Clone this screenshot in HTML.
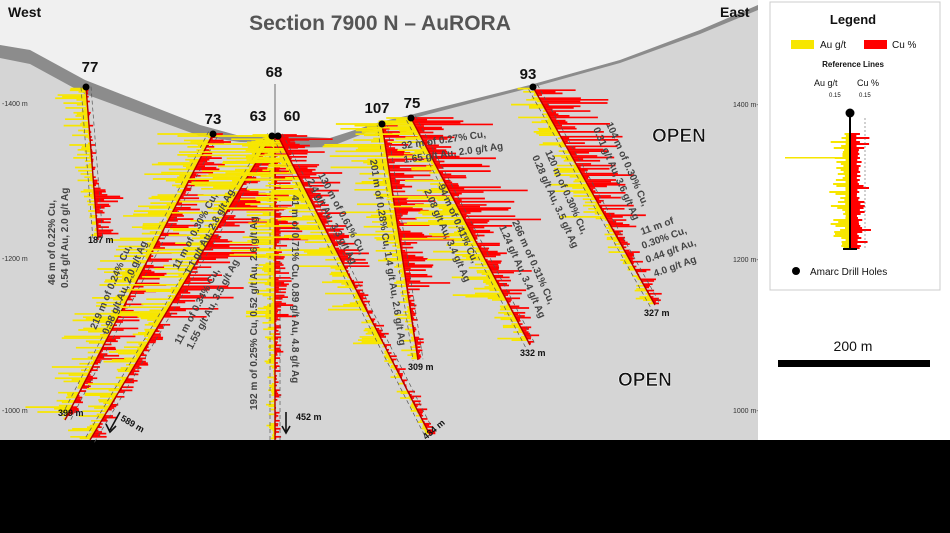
<!DOCTYPE html>
<html><head><meta charset="utf-8"><style>
html,body{margin:0;padding:0;background:#000;width:950px;height:533px;overflow:hidden}
svg{display:block}
text{font-family:"Liberation Sans",sans-serif}
</style></head><body>
<svg id="s" width="950" height="533" viewBox="0 0 950 533" xmlns="http://www.w3.org/2000/svg">
<rect x="0" y="0" width="950" height="533" fill="#000"/>
<rect x="0" y="0" width="758" height="440" fill="#d5d5d5"/>
<polygon points="0,0 758,0 758,5 700,30 620,60 530,85 410,115 380,122 330,138 275,135 240,136 200,125 85,80 30,50 0,45" fill="#f0f0f0"/>
<polygon points="0,45 30,50 85,80 200,125 240,136 275,135 330,138 380,122 410,115 530,85 620,60 700,30 758,5 758,10 700,34 620,63 530,88 410,119 380,127 330,147 290,148 275,143 240,142 200,136 85,94 30,64 0,58" fill="#8c8c8c"/>
<g id="bars"></g>
<g font-size="7" fill="#333">
<text x="2" y="106">-1400 m</text><text x="2" y="261">-1200 m</text><text x="2" y="413">-1000 m</text>
<text x="733" y="107">1400 m-</text><text x="733" y="262">1200 m-</text><text x="733" y="413">1000 m-</text>
</g>
<text x="8" y="17" font-size="14" font-weight="bold" fill="#111">West</text>
<text x="720" y="17" font-size="14" font-weight="bold" fill="#111">East</text>
<text x="380" y="30" font-size="21" font-weight="bold" fill="#555" text-anchor="middle">Section 7900 N – AuRORA</text>
<text x="652" y="142" font-size="19" font-weight="bold" fill="#111" stroke="#fff" stroke-width="0.6">OPEN</text>
<text x="618" y="386" font-size="19" font-weight="bold" fill="#111" stroke="#fff" stroke-width="0.6">OPEN</text>
<g id="labels"></g>
<g font-size="15" font-weight="bold" fill="#111" text-anchor="middle">
<text x="90" y="72">77</text><text x="213" y="124">73</text><text x="274" y="77">68</text>
<text x="258" y="121">63</text><text x="292" y="121">60</text><text x="377" y="113">107</text>
<text x="412" y="108">75</text><text x="528" y="79">93</text>
</g>
<line x1="275" y1="84" x2="275" y2="135" stroke="#333" stroke-width="0.7"/>
<g font-size="9" font-weight="bold" fill="#111">
<text x="88" y="243">187 m</text><text x="58" y="416">399 m</text>
<text x="296" y="420">452 m</text><text x="408" y="370">309 m</text>
<text x="520" y="356">332 m</text><text x="644" y="316">327 m</text>
<text x="120" y="420" transform="rotate(30 120 420)">589 m</text>
<text x="426" y="440" transform="rotate(-40 426 440)">434 m</text>
</g>
<path d="M120,412 L110,430 M106,424 L110,432 L116,426" stroke="#111" stroke-width="1.6" fill="none"/>
<path d="M286,412 L286,432 M282,426 L286,433 L290,426" stroke="#111" stroke-width="1.6" fill="none"/>
<g font-size="10" font-weight="bold" fill="#444">
<text transform="translate(55,285) rotate(-90)">46 m of 0.22% Cu,</text>
<text transform="translate(68,288) rotate(-90)">0.54 g/t Au, 2.0 g/t Ag</text>
<text transform="translate(96,330) rotate(-67)">219 m of 0.24% Cu,</text>
<text transform="translate(108,335) rotate(-67)">0.98 g/t Au, 2.0 g/t Ag</text>
<text transform="translate(180,345) rotate(-62)">11 m of 0.34% Cu,</text>
<text transform="translate(192,350) rotate(-62)">1.55 g/t Au, 3.5 g/t Ag</text>
<text transform="translate(178,270) rotate(-62)">11 m of 0.30% Cu,</text>
<text transform="translate(190,275) rotate(-62)">1.1 g/t Au, 2.8 g/t Ag</text>
<text transform="translate(257,410) rotate(-90)">192 m of 0.25% Cu, 0.52 g/t Au, 2.6 g/t Ag</text>
<text transform="translate(292,195) rotate(90)">41 m of 0.71% Cu, 0.89 g/t Au, 4.8 g/t Ag</text>
<text transform="translate(318,175) rotate(62)">130 m of 0.61% Cu,</text>
<text transform="translate(307,181) rotate(62)">2.4 g/t Au, 3.3 g/t Ag</text>
<text transform="translate(370,160) rotate(81)">201 m of 0.28% Cu, 1.4 g/t Au, 2.6 g/t Ag</text>
<text transform="translate(402,149) rotate(-8)">32 m of 0.27% Cu,</text>
<text transform="translate(404,163) rotate(-8)">1.65 g/t Au, 2.0 g/t Ag</text>
<text transform="translate(438,186) rotate(66)">94 m of 0.41% Cu,</text>
<text transform="translate(424,191) rotate(66)">2.08 g/t Au, 3.4 g/t Ag</text>
<text transform="translate(512,222) rotate(66)">266 m of 0.31% Cu,</text>
<text transform="translate(499,227) rotate(66)">1.24 g/t Au, 3.4 g/t Ag</text>
<text transform="translate(545,152) rotate(66)">120 m of 0.30% Cu,</text>
<text transform="translate(532,157) rotate(66)">0.28 g/t Au, 3.5 g/t Ag</text>
<text transform="translate(606,124) rotate(66)">104 m of 0.30% Cu,</text>
<text transform="translate(593,129) rotate(66)">0.31 g/t Au, 3.6 g/t Ag</text>
<text x="642" y="235" transform="rotate(-20 642 235)">11 m of</text>
<text x="643" y="249" transform="rotate(-20 643 249)">0.30% Cu,</text>
<text x="647" y="263" transform="rotate(-20 647 263)">0.44 g/t Au,</text>
<text x="655" y="277" transform="rotate(-20 655 277)">4.0 g/t Ag</text>
</g>
<g id="dots" fill="#000">
<circle cx="86" cy="87" r="3.5"/><circle cx="213" cy="134" r="3.5"/><circle cx="272" cy="136" r="3.5"/>
<circle cx="278" cy="136" r="3.5"/><circle cx="382" cy="124" r="3.5"/><circle cx="411" cy="118" r="3.5"/><circle cx="533" cy="87" r="3.5"/>
</g>
<rect x="758" y="0" width="192" height="440" fill="#fff"/>
<rect x="770" y="2" width="170" height="288" fill="#fff" stroke="#ccc"/>
<text x="853" y="24" font-size="13" font-weight="bold" text-anchor="middle" fill="#111">Legend</text>
<rect x="791" y="40" width="23" height="9" fill="#f7e600"/><text x="820" y="48" font-size="10" fill="#111">Au g/t</text>
<rect x="864" y="40" width="23" height="9" fill="#f00"/><text x="892" y="48" font-size="10" fill="#111">Cu %</text>
<text x="853" y="67" font-size="8" font-weight="bold" text-anchor="middle" fill="#111">Reference Lines</text>
<text x="814" y="86" font-size="9" fill="#111">Au g/t</text><text x="857" y="86" font-size="9" fill="#111">Cu %</text>
<text x="829" y="97" font-size="6" fill="#111">0.15</text><text x="859" y="97" font-size="6" fill="#111">0.15</text>
<g id="leg"></g>
<circle cx="850" cy="113" r="4.5" fill="#000"/>
<circle cx="796" cy="271" r="4" fill="#000"/>
<text x="810" y="275" font-size="10" fill="#111">Amarc Drill Holes</text>
<text x="853" y="351" font-size="14" text-anchor="middle" fill="#111">200 m</text>
<rect x="778" y="360" width="152" height="7" fill="#000"/>
</svg>
<script>
var seed=7;function r(){seed=(seed*16807)%2147483647;return seed/2147483647;}
var NS="http://www.w3.org/2000/svg";
function el(p,t,a){var e=document.createElementNS(NS,t);for(var k in a)e.setAttribute(k,a[k]);p.appendChild(e);return e;}
var g=document.getElementById('bars');
var holes=[
[86,87,98,240,function(t){return t<0.75?20*(1-t)+4:6},function(t){return t>0.6?18:3}],
[213,134,65,420,function(t){return t<0.3?40:60*(1-t*0.5)},function(t){return t<0.8?22:8}],
[272,136,90,440,function(t){return t<0.6?50:25},function(t){return t<0.6?40:10}],
[275,135,275,440,function(t){return t<0.6?35:8},function(t){return t<0.6?22:6}],
[278,136,430,435,function(t){return t<0.4?70:t<0.7?30:8},function(t){return t<0.45?30:8}],
[382,124,418,360,function(t){return t<0.6?40:12},function(t){return t<0.7?40:8}],
[411,118,530,345,function(t){return t<0.5?55:t<0.8?45:20},function(t){return t<0.5?55:t<0.8?25:12}],
[533,87,655,305,function(t){return t<0.6?30:12},function(t){return t<0.65?45:12}]
];
holes.forEach(function(h){
 var dx=h[2]-h[0],dy=h[3]-h[1];
 var n=Math.floor(dy/1.6);
 var nx=dy,ny=-dx,L=Math.hypot(nx,ny);nx/=L;ny/=L;if(nx<0){nx=-nx;ny=-ny;}
 for(var i=0;i<n;i++){var t=i/n,px=h[0]+dx*t,py=h[1]+dy*t;
  var ya=h[4](t)*r()*r()*1.7, ra=h[5](t)*r()*r()*1.7;
  el(g,'line',{x1:px,y1:py,x2:px-ya,y2:py,stroke:'#f7e600','stroke-width':1.7});
  el(g,'line',{x1:px,y1:py,x2:px+ra,y2:py,stroke:'#f00','stroke-width':1.7});
 }
 el(g,'line',{x1:h[0]-nx*5,y1:h[1]-ny*5,x2:h[2]-nx*5,y2:h[3]-ny*5,stroke:'#555','stroke-width':0.7,'stroke-dasharray':'4,3'});
 el(g,'line',{x1:h[0]+nx*5,y1:h[1]+ny*5,x2:h[2]+nx*5,y2:h[3]+ny*5,stroke:'#555','stroke-width':0.7,'stroke-dasharray':'4,3'});
 el(g,'line',{x1:h[0],y1:h[1],x2:h[2],y2:h[3],stroke:'#b00000','stroke-width':1.4});
});
var lg=document.getElementById('leg');
for(var y=133;y<248;y+=2){var a=20*r()*r()+4,b=18*r()*r()+6;
 el(lg,'rect',{x:850-a,y:y,width:a,height:2,fill:'#f7e600'});
 el(lg,'rect',{x:850,y:y,width:b,height:2,fill:'#f00'});}
el(lg,'rect',{x:785,y:157,width:65,height:1.5,fill:'#f7e600'});
el(lg,'line',{x1:865,y1:118,x2:865,y2:248,stroke:'#666','stroke-dasharray':'2,2','stroke-width':0.6});
el(lg,'rect',{x:849,y:113,width:2,height:137,fill:'#000'});
el(lg,'rect',{x:843,y:248,width:14,height:2,fill:'#000'});
</script>
</body></html>
